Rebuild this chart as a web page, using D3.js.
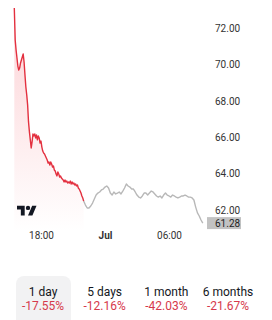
<!DOCTYPE html>
<html>
<head>
<meta charset="utf-8">
<script src="https://cdn.jsdelivr.net/npm/d3@7"></script>
<style>
  body { margin: 0; background: #fff; font-family: Roboto, "Noto Sans", sans-serif; }
  svg { display: block; }
</style>
</head>
<body>
<svg width="272" height="320"></svg>
<script>
// regular session, 5 min bars from 15:30 to 22:00
var sessionPrices = [73.10, 71.34, 70.79, 70.35, 69.91, 69.69, 69.80, 70.08, 70.24, 70.41,
  70.57, 70.13, 69.42, 68.76, 68.32, 67.77, 66.84, 66.29, 65.85, 65.41,
  65.74, 66.18, 66.07, 66.18, 65.96, 66.12, 65.85, 66.07, 65.96, 65.68,
  65.79, 65.46, 65.24, 65.13, 65.08, 64.97, 64.86, 64.75, 64.58, 64.64,
  64.47, 64.64, 64.53, 64.36, 64.42, 64.20, 64.14, 63.98, 63.87, 64.09,
  63.98, 63.81, 63.87, 63.76, 63.70, 63.65, 63.54, 63.65, 63.54, 63.59,
  63.48, 63.54, 63.48, 63.59, 63.43, 63.54, 63.43, 63.48, 63.37, 63.43,
  63.32, 63.37, 63.21, 63.15, 63.04, 62.93, 62.77, 62.66, 62.49];

// extended hours, 10 min bars from 22:00 to 09:10
var extendedPrices = [62.49, 62.27, 62.11, 62.11, 62.22, 62.38, 62.60, 62.82, 62.93, 62.99,
  63.10, 63.15, 63.26, 63.32, 63.21, 62.93, 62.82, 62.99, 62.88, 62.93,
  62.99, 62.88, 63.04, 63.21, 63.43, 63.32, 63.26, 63.15, 63.15, 62.99,
  62.82, 62.71, 62.66, 62.77, 62.93, 62.93, 62.82, 62.93, 63.04, 62.99,
  62.88, 62.77, 62.71, 62.77, 62.66, 62.82, 62.93, 62.82, 62.77, 62.71,
  62.82, 62.77, 62.71, 62.66, 62.71, 62.77, 62.77, 62.82, 62.77, 62.71,
  62.71, 62.66, 62.55, 62.16, 61.84, 61.67, 61.45, 61.28];

var sessionStart = new Date(2024, 5, 30, 15, 30);
var extendedStart = new Date(2024, 5, 30, 22, 0);
var endTime = new Date(2024, 6, 1, 9, 10);

var yTicks = [62, 64, 66, 68, 70, 72];
var xTicks = [new Date(2024, 5, 30, 18, 0), new Date(2024, 6, 1, 0, 0), new Date(2024, 6, 1, 6, 0)];
var xTickLabels = ["18:00", "Jul", "06:00"];
var lastPrice = 61.28;

var periods = ["1 day", "5 days", "1 month", "6 months"];
var changes = ["-17.55%", "-12.16%", "-42.03%", "-21.67%"];

var svg = d3.select("svg");

var x = d3.scaleTime().domain([sessionStart, endTime]).range([14.3, 202.8]);
var y = d3.scaleLinear().domain([62, 72]).range([210, 28]);

var session = sessionPrices.map(function(v, i) {
  return {t: d3.timeMinute.offset(sessionStart, i * 5), v: v};
});
var extended = extendedPrices.map(function(v, i) {
  return {t: d3.timeMinute.offset(extendedStart, i * 10), v: v};
});

// gradient under the red part
var grad = svg.append("defs").append("linearGradient")
    .attr("id", "fillGrad")
    .attr("gradientUnits", "userSpaceOnUse")
    .attr("x1", 0).attr("y1", 8).attr("x2", 0).attr("y2", 232);
grad.append("stop").attr("offset", 0).attr("stop-color", "#f23645").attr("stop-opacity", 0.22);
grad.append("stop").attr("offset", 1).attr("stop-color", "#f23645").attr("stop-opacity", 0.0);

var area = d3.area()
    .x(function(d) { return x(d.t); })
    .y0(232)
    .y1(function(d) { return y(d.v); });

var line = d3.line()
    .x(function(d) { return x(d.t); })
    .y(function(d) { return y(d.v); });

svg.append("path").datum(session)
    .attr("d", area)
    .attr("fill", "url(#fillGrad)");

svg.append("path").datum(extended)
    .attr("d", line)
    .attr("fill", "none")
    .attr("stroke", "#b8b8b8")
    .attr("stroke-width", 1.4)
    .attr("stroke-linejoin", "round");

svg.append("path").datum(session)
    .attr("d", line)
    .attr("fill", "none")
    .attr("stroke", "#e3303f")
    .attr("stroke-width", 1.4)
    .attr("stroke-linejoin", "round");

// y axis on the right
var yAxis = svg.append("g")
    .attr("transform", "translate(215,0)")
    .call(d3.axisRight(y).tickValues(yTicks).tickFormat(d3.format(".2f")).tickSize(0).tickPadding(0));
yAxis.select(".domain").remove();
yAxis.selectAll("text")
    .attr("font-family", "Roboto, sans-serif")
    .attr("font-size", 10)
    .attr("fill", "#333");

// last price label
var lp = svg.append("g").attr("transform", "translate(0," + y(lastPrice) + ")");
lp.append("rect")
    .attr("x", 207).attr("y", -6).attr("width", 34).attr("height", 12)
    .attr("fill", "#c2c2c2");
lp.append("text")
    .attr("x", 215).attr("y", 0).attr("dy", "0.35em")
    .attr("font-family", "Roboto, sans-serif")
    .attr("font-size", 10)
    .attr("fill", "#222")
    .text(lastPrice.toFixed(2));

// x axis
var xAxis = svg.append("g")
    .attr("transform", "translate(0,232)")
    .call(d3.axisBottom(x).tickValues(xTicks)
      .tickFormat(function(d, i) { return xTickLabels[i]; })
      .tickSize(0).tickPadding(0));
xAxis.select(".domain").remove();
xAxis.selectAll("text")
    .attr("dy", "0.71em")
    .attr("font-family", "Roboto, sans-serif")
    .attr("font-size", 10)
    .attr("fill", "#333")
    .attr("font-weight", function(d, i) { return i == 1 ? "bold" : "normal"; });

// tradingview logo
var logo = svg.append("g").attr("transform", "translate(17,203.5) scale(0.55)").attr("fill", "#131722");
logo.append("path").attr("d", "M14 22H7V11H0V4h14v18zM28 22h-8l7.5-18h8L28 22z");
logo.append("circle").attr("cx", 20).attr("cy", 8).attr("r", 4);

// period tabs
var tabX = d3.scalePoint().domain(periods).range([43, 228]);

svg.append("rect")
    .attr("x", 16).attr("y", 276).attr("width", 55).attr("height", 54).attr("rx", 8)
    .attr("fill", "#f2f2f3");

var tabs = svg.selectAll(".tab").data(periods).enter().append("g")
    .attr("class", "tab")
    .attr("transform", function(d) { return "translate(" + tabX(d) + ",0)"; });
tabs.append("text")
    .attr("y", 296)
    .attr("text-anchor", "middle")
    .attr("font-size", 12)
    .attr("fill", "#131722")
    .text(function(d) { return d; });
tabs.append("text")
    .attr("y", 310)
    .attr("text-anchor", "middle")
    .attr("font-size", 12)
    .attr("fill", "#d6394b")
    .text(function(d, i) { return changes[i]; });
</script>
</body>
</html>
